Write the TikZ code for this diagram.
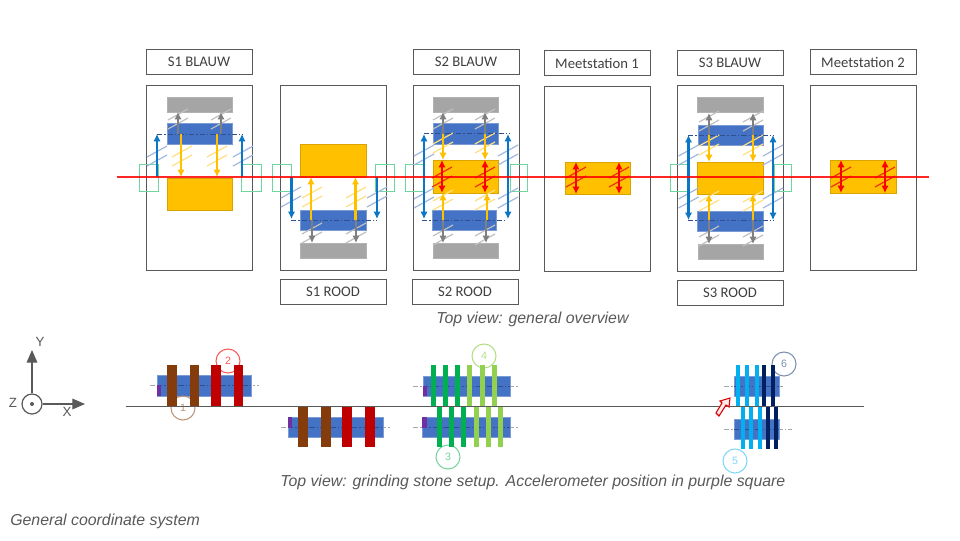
\documentclass[tikz,border=0pt]{standalone}
\usepackage{fontspec}
\setmainfont{Liberation Sans}
\newfontfamily\calib{Carlito}
\usetikzlibrary{arrows.meta}
\definecolor{cframe}{HTML}{595959}
\definecolor{ctext}{HTML}{404040}
\definecolor{cgrey}{HTML}{A5A5A5}
\definecolor{cblue}{HTML}{4472C4}
\definecolor{cyel}{HTML}{FFC000}
\definecolor{cgreen}{HTML}{70D6A0}
\definecolor{carrowblue}{HTML}{0B77C4}
\definecolor{carrowgrey}{HTML}{7F7F7F}
\definecolor{cbrown}{HTML}{843C0C}
\definecolor{cred}{HTML}{C00000}
\definecolor{cdkg}{HTML}{00B050}
\definecolor{cltg}{HTML}{92D050}
\definecolor{cltb}{HTML}{00B0F0}
\definecolor{cdkb}{HTML}{002060}
\definecolor{cpurple}{HTML}{7030A0}
\definecolor{cdash}{HTML}{2F4F8F}
\tikzset{
  x=0.75pt,y=-0.75pt,
  frame/.style={draw=cframe,line width=0.75pt,fill=none},
  labelbox/.style={draw=cframe,line width=0.75pt,fill=white,minimum width=79.5pt,minimum height=18.8pt,inner sep=0pt,text=ctext,font=\calib\fontsize{11}{11}\selectfont},
  gstone/.style={fill=cgrey,draw=cgrey!85!white,line width=0.4pt},
  bstone/.style={fill=cblue,draw=cblue!70!white,line width=0.4pt},
  ystone/.style={fill=cyel,draw=cyel!85!black,line width=0.4pt},
  gbox/.style={draw=cgreen,line width=0.6pt},
  arr/.style={line width=1.7pt,-{Latex[length=5.5pt,width=5.5pt]}},
  dbl/.style={line width=1.7pt,{Latex[length=5.5pt,width=5.5pt]}-{Latex[length=5.5pt,width=5.5pt]}},
  hat/.style={line width=0.9pt},
  refl/.style={line width=0.75pt,dash pattern=on 4pt off 1.5pt on 1pt off 1.5pt,draw=#1},
  ringnode/.style={circle,draw=#1,text=#1,line width=0.8pt,minimum size=18pt,inner sep=0pt,font=\fontsize{8}{8}\selectfont},
  captxt/.style={text=cframe,inner sep=0pt,font=\itshape\fontsize{11.9}{12}\selectfont},
  axtxt/.style={text=cframe,inner sep=0pt,font=\fontsize{10}{10}\selectfont},
  axarr/.style={draw=cframe,line width=0.9pt,-{Triangle[length=9.5pt,width=8pt]}},
}
\newcommand{\hatchpair}[3]{%
  \draw[hat,draw=#3] (#1-10,#2+1) -- (#1+10,#2-10);
  \draw[hat,draw=#3] (#1-10,#2+10) -- (#1+10,#2-1);}
\newcommand{\myrect}[5]{\draw[#1] (#2,#3) rectangle (#4,#5);}
\newcommand{\stonebar}[7]{%
  \draw[refl=gray!70] (#1,#6) -- (#2,#6);
  \fill[cblue,draw=cblue!70!white,line width=0.4pt] (#3,#4) rectangle (#5,#7);
  \draw[refl=cdash] (#3,#6) -- (#5,#6);}
\colorlet{hb}{cblue!50!white}
\colorlet{hy}{cyel!50!white}
\colorlet{hg}{cgrey!70!white}
\definecolor{hr}{HTML}{F03010}
\begin{document}
\begin{tikzpicture}
\useasboundingbox (0,0) rectangle (960,540);
\fill[white] (0,0) rectangle (960,540);
% frames
\myrect{frame}{146}{85}{252}{270}
\myrect{frame}{280}{85}{386}{270}
\myrect{frame}{413}{85}{519}{270}
\myrect{frame}{544}{86}{650}{271}
\myrect{frame}{677}{85}{783}{271}
\myrect{frame}{810}{85}{916}{270}
% labels
\node[labelbox] (s1b) at (199,62) {S1 BLAUW};
\node[labelbox] (s1r) at (333,292) {S1 ROOD};
\node[labelbox] (s2b) at (466,62) {S2 BLAUW};
\node[labelbox] (s2r) at (465,292) {S2 ROOD};
\node[labelbox] (m1) at (597,63) {Meetstation 1};
\node[labelbox] (s3b) at (730,63) {S3 BLAUW};
\node[labelbox] (s3r) at (730,293) {S3 ROOD};
\node[labelbox] (m2) at (863,62) {Meetstation 2};
% green squares
\foreach \a/\b in {139/158,241/261,272/291,375/394,405/424,510/527,670/688,774/791}
  {\myrect{gbox}{\a}{164}{\b}{191}}
% S1 BLAUW
\myrect{gstone}{167}{97}{232}{112}
\myrect{bstone}{167}{123}{232}{144}
\myrect{ystone}{167}{178}{232}{210}
\foreach \x in {157,243}{\hatchpair{\x}{156}{hb}}
\foreach \x in {182,217}{\hatchpair{\x}{156}{hy}}
\foreach \x in {178,221}{\hatchpair{\x}{119}{hg}}
\draw[refl=cdash] (157,134.5) -- (243,134.5);
\foreach \x in {178,221}{\draw[arr,carrowgrey] (\x,134) -- (\x,112);}
\foreach \x in {181,217}{\draw[arr,cyel] (\x,134) -- (\x,177);}
\foreach \x in {157,242}{\draw[arr,carrowblue] (\x,177) -- (\x,134);}
% S1 ROOD
\myrect{ystone}{300}{144}{366}{177}
\myrect{bstone}{300}{210}{366}{230}
\myrect{gstone}{300}{243}{366}{258}
\foreach \x in {291,377}{\hatchpair{\x}{197}{hb}}
\foreach \x in {312,356}{\hatchpair{\x}{197}{hy}\hatchpair{\x}{233}{hg}}
\draw[refl=cdash] (291,220) -- (377,220);
\foreach \x in {312,356}{\draw[arr,carrowgrey] (\x,220) -- (\x,243);}
\foreach \x in {311,355.5}{\draw[arr,cyel] (\x,220) -- (\x,177);}
\foreach \x in {291.5,377}{\draw[arr,carrowblue] (\x,177) -- (\x,219);}
% S2
\myrect{gstone}{433}{97}{498}{112}
\myrect{bstone}{433}{123}{498}{144}
\myrect{ystone}{433}{160}{498}{193}
\myrect{bstone}{432}{210}{496}{230}
\myrect{gstone}{433}{243}{498}{258}
\foreach \x in {424,508}{\hatchpair{\x}{155}{hb}\hatchpair{\x}{198}{hb}}
\foreach \x in {443,485}{\hatchpair{\x}{143}{hy}\hatchpair{\x}{200}{hy}\hatchpair{\x}{119}{hg}\hatchpair{\x}{235}{hg}}
\foreach \x in {442,485}{\hatchpair{\x}{177}{hr}}
\draw[refl=cdash] (424,133.5) -- (510,133.5);
\draw[refl=cdash] (422,220) -- (507,220);
\foreach \x in {443,485}{\draw[arr,carrowgrey] (\x,134) -- (\x,112);\draw[arr,cyel] (\x,134) -- (\x,160);}
\foreach \x/\y in {443/443,486/487}{\draw[arr,carrowgrey] (\x,220) -- (\x,243);\draw[arr,cyel] (\y,220) -- (\y,193);}
\foreach \x in {442,485}{\draw[dbl,red] (\x,160) -- (\x,193);}
\foreach \x in {424,508}{\draw[dbl,carrowblue] (\x,134) -- (\x,219);}
% Meetstation 1
\myrect{ystone}{565}{162}{630}{194}
\foreach \x in {576,619}{\hatchpair{\x}{177}{hr}\draw[dbl,red] (\x,162) -- (\x,194);}
% S3
\myrect{gstone}{697}{97}{763}{112}
\myrect{bstone}{698}{125}{763}{145}
\myrect{ystone}{697}{162}{763}{194}
\myrect{bstone}{697}{211}{763}{231}
\myrect{gstone}{698}{244}{763}{259}
\foreach \x in {688.5,773}{\hatchpair{\x}{155}{hb}\hatchpair{\x}{198}{hb}}
\foreach \x in {709,753}{\hatchpair{\x}{145}{hy}\hatchpair{\x}{201}{hy}\hatchpair{\x}{121}{hg}\hatchpair{\x}{236}{hg}}
\draw[refl=cdash] (688,135) -- (774,135);
\draw[refl=cdash] (688,220.5) -- (774,220.5);
\foreach \x in {709,753}{
  \draw[arr,carrowgrey] (\x,135) -- (\x,113);
  \draw[arr,carrowgrey] (\x,220) -- (\x,244);
  \draw[arr,cyel] (\x,135) -- (\x,162);
  \draw[arr,cyel] (\x,220) -- (\x,194);}
\foreach \x in {688.5,773}{\draw[dbl,carrowblue] (\x,135) -- (\x,220);}
% Meetstation 2
\myrect{ystone}{830}{160}{896}{193}
\foreach \x in {841,885}{\hatchpair{\x}{177}{hr}\draw[dbl,red] (\x,160) -- (\x,193);}
% red line
\draw[red,line width=1.1pt,opacity=.85] (117,177) -- (929,177);
\node[captxt,anchor=west] (cap1) at (436,319.5) {Top view: general overview};
% Axes
\node[circle,draw=cframe,line width=0.9pt,minimum size=15pt,inner sep=0pt] (zc) at (32,404) {};
\fill[cframe] (zc.center) circle[radius=2];
\coordinate (ytip) at (32,350);
\coordinate (xtip) at (85,404);
\draw[axarr] (zc.north) -- (ytip);
\draw[axarr] (zc.east) -- (xtip);
\node[axtxt] (ty) at (40,342) {Y};
\node[axtxt] (tz) at (13,403) {Z};
\node[axtxt] (tx) at (67,412) {X};
% grinding stones
\coordinate (ln1) at (126,406.5);
\coordinate (ln2) at (864,406.5);
\stonebar{150}{259}{157}{375}{251}{385.5}{396}
\stonebar{281}{390}{288}{417}{383}{427}{437}
\stonebar{413}{518}{423}{376}{510}{386}{396}
\stonebar{413}{518}{422}{417}{510}{427}{437}
\stonebar{724}{783}{734}{376}{779}{386}{396}
\stonebar{724}{792}{734}{419}{779}{429}{439}
\fill[cpurple] (157,385) rectangle (161,396);
\fill[cpurple] (288,417) rectangle (292,428);
\fill[cpurple] (423,386) rectangle (427,396);
\fill[cpurple] (422,417) rectangle (427,428);
% circles
\node[ringnode={cbrown!55!white}] (c1) at (183,408) {1};
\node[ringnode={red!65!white}] (c2) at (228,361) {2};
\node[ringnode={cdkg!55!white}] (c3) at (448,457) {3};
\node[ringnode={cltg!70!white}] (c4) at (484,356) {4};
\node[ringnode={cltb!50!white}] (c5) at (735,461) {5};
\node[ringnode={cdkb!50!white}] (c6) at (784,364) {6};
% strips
\foreach \a/\b/\c in {167/177/cbrown,190/199/cbrown,211/221/cred,234/243/cred}
  {\fill[\c] (\a,365) rectangle (\b,406);}
\foreach \a/\b/\c in {298/308/cbrown,321/331/cbrown,342/352/cred,365/375/cred}
  {\fill[\c] (\a,407) rectangle (\b,447);}
\foreach \a/\b/\c in {431/436/cdkg,443/448/cdkg,455/460/cdkg,467/472/cltg,480/484.5/cltg,492/496.5/cltg}
  {\fill[\c] (\a,365) rectangle (\b,406);}
\foreach \a/\b/\c in {437/442/cdkg,449/454/cdkg,461/466/cdkg,474/479/cltg,486/491/cltg,498/503/cltg}
  {\fill[\c] (\a,407) rectangle (\b,447);}
\foreach \a/\b/\c in {735.5/739.5/cltb,744.5/748.5/cltb,754.5/758.5/cltb,761.5/765.5/cdkb,770.5/774.5/cdkb}
  {\fill[\c] (\a,365) rectangle (\b,406);}
\foreach \a/\b/\c in {740.5/744.5/cltb,749/753/cltb,757.5/761.5/cltb,765.5/769.5/cdkb,773.5/777.5/cdkb}
  {\fill[\c] (\a,407) rectangle (\b,449);}
\draw[cframe,line width=0.9pt] (ln1) -- (ln2);
% red outlined arrow
\draw[red!85!black,fill=red!8!white,line width=0.8pt,line join=miter]
  (730,398) -- (729,407) -- (726,405) -- (719,416) -- (716,413) -- (722,403) -- (720,401) -- cycle;
\node[captxt,anchor=west] (cap2) at (280,482) {Top view: grinding stone setup. Accelerometer position in purple square};
\node[captxt,anchor=west] (cap3) at (10,521) {General coordinate system};
\end{tikzpicture}
\end{document}
